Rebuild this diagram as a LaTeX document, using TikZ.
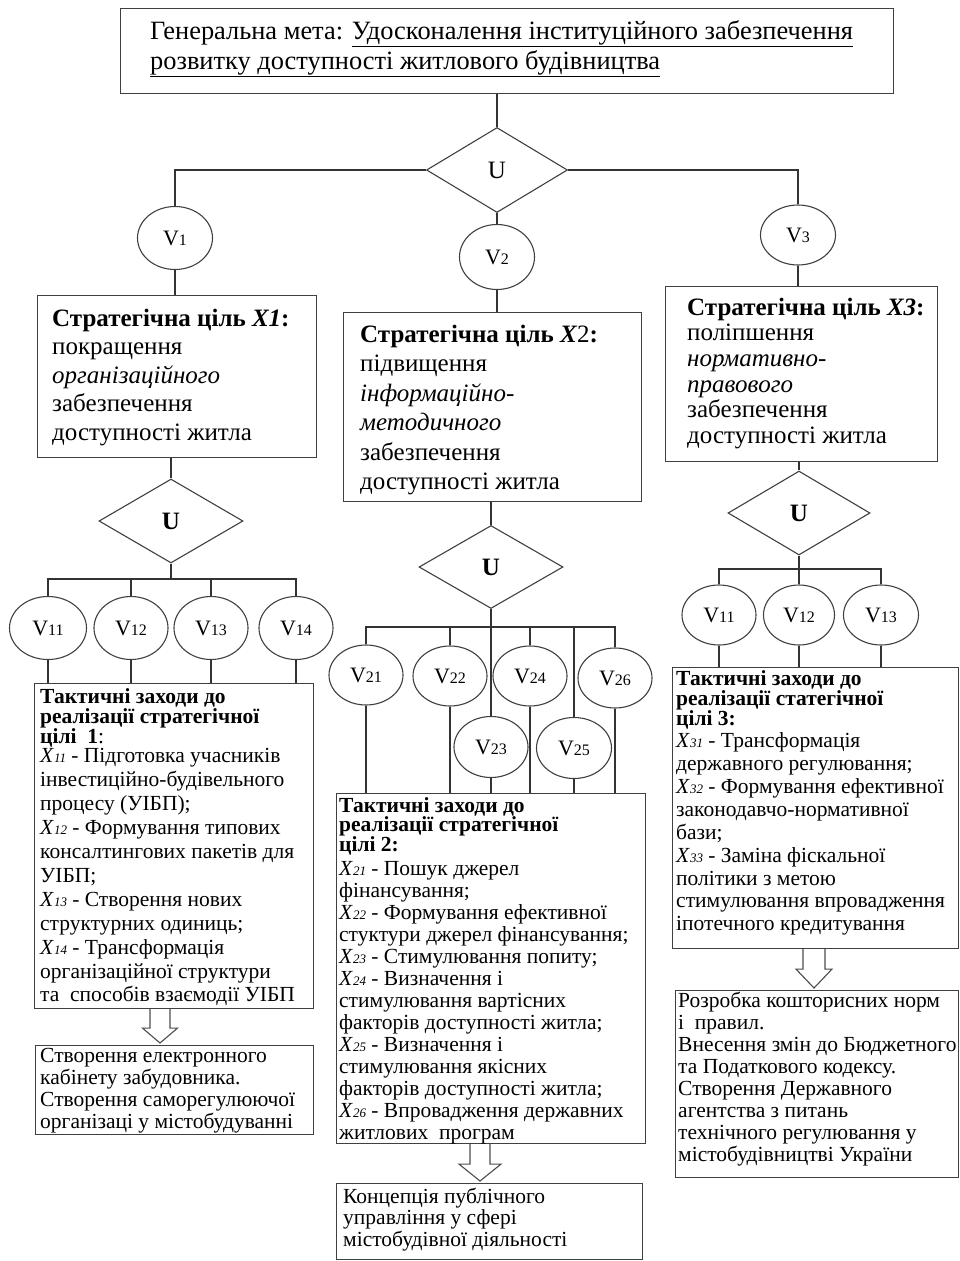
\documentclass[tikz,border=0pt]{standalone}
\usepackage{fontspec}
\setmainfont{Liberation Serif}
\usetikzlibrary{shapes.geometric,calc}
\newcommand\Xsub[1]{\textit{X}{\fontsize{13}{13}\selectfont\textit{#1}}}
\newcommand\Vlab[1]{{\fontsize{22}{22}\selectfont V}{\fontsize{16}{16}\selectfont #1}}
\newcommand\fs[2]{\fontsize{#1}{#2}\selectfont\lineskiplimit=-100pt\lineskip=0pt}
\newcommand\blockarrow[6]{%
  \coordinate (ac) at (#3,0);
  \draw[hollow] ($(ac|-#1.south)+(-#4,0)$) -- ++(0,#6) -- ++(-#5+#4,0) -- ($(ac|-#2.north)+(0,-2)$)
     -- ($(ac|-#1.south)+(#5,#6)$) -- ++(-#5+#4,0) -- ++(0,-#6);}
\begin{document}
\begin{tikzpicture}[x=1pt,y=-1pt,
  line/.style={draw=black!80, line width=1.1pt},
  box/.style={draw=black!75, line width=1.1pt, rectangle, anchor=north west, inner sep=0pt},
  txt/.style={anchor=north west, inner sep=0pt, align=left},
  oval/.style={ellipse, draw=black!75, line width=1.1pt, inner sep=0pt, minimum width=75pt, minimum height=62pt},
  rhomb/.style={diamond, draw=black!75, line width=1.1pt, inner sep=0pt, minimum width=142pt, minimum height=84pt},
  hollow/.style={draw=black!70, line width=1.1pt, fill=white}
]
\useasboundingbox[fill=white] (0,0) rectangle (959,1261);

% ---------- top ----------
\node[box, minimum width=773, minimum height=85] (goal) at (120,8) {};
\node[txt, font=\fs{26.4}{30}] (goalt) at (150,14) {\rule{0pt}{25pt}Генеральна мета: \underline{Удосконалення інституційного забезпечення}\\
\underline{розвитку доступності житлового будівництва}};
\node[rhomb, minimum width=141, minimum height=85] (D0) at (497,170) {\fontsize{25}{25}\selectfont U};
\node[oval, minimum height=63] (V1) at (175,238) {\Vlab{1}};
\node[oval, minimum height=65] (V2) at (497,257) {\Vlab{2}};
\node[oval, minimum height=60] (V3) at (798,235) {\Vlab{3}};
\draw[line] (D0.north|-goal.south) -- (D0.north);
\draw[line] (D0.west) -| (V1.north);
\draw[line] (D0.south) -- (V2.north);
\draw[line] (D0.east) -| (V3.north);

% ---------- column 1 ----------
\node[box, minimum width=279, minimum height=162] (X1) at (37,295) {};
\node[txt, font=\fs{25}{28.5}] (X1t) at (52,302) {\rule{0pt}{24pt}\textbf{Стратегічна ціль \textit{X1}:}\\
покращення\\ \textit{організаційного}\\ забезпечення\\ доступності житла};
\draw[line] (V1.south) -- (V1.south|-X1.north);
\node[rhomb, minimum width=144, minimum height=84] (D1) at (171,521) {\fontsize{25}{25}\selectfont\bfseries U};
\draw[line] (D1.north|-X1.south) -- (D1.north);
\coordinate (bus1) at (171,579);
\node[oval, minimum width=77, minimum height=63] (V11) at (48,628) {\Vlab{11}};
\node[oval, minimum width=74, minimum height=63] (V12) at (131,628) {\Vlab{12}};
\node[oval, minimum width=74, minimum height=63] (V13) at (211,628) {\Vlab{13}};
\node[oval, minimum width=74, minimum height=63] (V14) at (296,628) {\Vlab{14}};
\draw[line] (D1.south) -- (bus1);
\draw[line] (V11.north) |- (bus1) -| (V14.north);
\draw[line] (V12.north) -- (V12.north|-bus1);
\draw[line] (V13.north) -- (V13.north|-bus1);
\node[box, minimum width=279, minimum height=325] (T1) at (34,683) {};
\foreach \v in {V11,V12,V13,V14} \draw[line] (\v.south) -- (\v.south|-T1.north);
\node[txt, font=\fs{21.5}{23.9}] (T1t) at (40,682.5) {\rule{0pt}{20.5pt}\textbf{Тактичні заходи до}\\[-4pt]
\textbf{реалізації стратегічної}\\[-4pt]
\textbf{цілі\ \ 1}:\\[-4pt]
\Xsub{11} - Підготовка учасників\\
інвестиційно-будівельного\\
процесу (УІБП);\\
\Xsub{12} - Формування типових\\
консалтингових пакетів для\\
УІБП;\\
\Xsub{13} - Створення нових\\
структурних одиниць;\\
\Xsub{14} - Трансформація\\
організаційної структури\\
та\ \ способів взаємодії УІБП};
\node[box, minimum width=278, minimum height=89] (R1) at (35,1045) {};
\node[txt, font=\fs{21.5}{22}] (R1t) at (40,1041.5) {\rule{0pt}{20.5pt}Створення електронного\\
кабінету забудовника.\\
Створення саморегулюючої\\
організаці у містобудуванні};
\blockarrow{T1}{R1}{160}{10}{17.5}{19}

% ---------- column 2 ----------
\node[box, minimum width=298, minimum height=189] (X2) at (343,312) {};
\node[txt, font=\fs{25}{29.5}] (X2t) at (360,318) {\rule{0pt}{24pt}\textbf{Стратегічна ціль \textit{X}}2\textbf{:}\\
підвищення\\ \textit{інформаційно-}\\ \textit{методичного}\\ забезпечення\\ доступності житла};
\draw[line] (V2.south) -- (V2.south|-X2.north);
\node[rhomb, minimum width=144, minimum height=83] (D2) at (491,567) {\fontsize{25}{25}\selectfont\bfseries U};
\draw[line] (D2.north|-X2.south) -- (D2.north);
\coordinate (bus2) at (491,627);
\node[oval, minimum width=74, minimum height=60] (V21) at (366,675) {\Vlab{21}};
\node[oval, minimum width=74, minimum height=60] (V22) at (450,676) {\Vlab{22}};
\node[oval, minimum width=74, minimum height=60] (V24) at (530,676) {\Vlab{24}};
\node[oval, minimum width=74, minimum height=60] (V26) at (615,678) {\Vlab{26}};
\node[oval, minimum width=74, minimum height=61] (V23) at (491,747) {\Vlab{23}};
\node[oval, minimum width=75, minimum height=61] (V25) at (574,748) {\Vlab{25}};
\draw[line] (D2.south) -- (V23.north);
\draw[line] (V21.north) |- (bus2) -| (V26.north);
\draw[line] (V22.north) -- (V22.north|-bus2);
\draw[line] (V24.north) -- (V24.north|-bus2);
\draw[line] (V25.north) -- (V25.north|-bus2);
\node[box, minimum width=309, minimum height=350] (T2) at (336,793) {};
\foreach \v in {V21,V22,V23,V24,V25,V26} \draw[line] (\v.south) -- (\v.south|-T2.north);
\node[txt, font=\fs{21.5}{22}] (T2t) at (339,791.5) {\rule{0pt}{20.5pt}\textbf{Тактичні заходи до}\\[-2.5pt]
\textbf{реалізації стратегічної}\\[-2.5pt]
\textbf{цілі 2:}\\[2pt]
\Xsub{21} - Пошук джерел\\
фінансування;\\
\Xsub{22} - Формування ефективної\\
стуктури джерел фінансування;\\
\Xsub{23} - Стимулювання попиту;\\
\Xsub{24} - Визначення і\\
стимулювання вартісних\\
факторів доступності житла;\\
\Xsub{25} - Визначення і\\
стимулювання якісних\\
факторів доступності житла;\\
\Xsub{26} - Впровадження державних\\
житлових\ \ програм};
\node[box, minimum width=306, minimum height=76] (R2) at (336,1183) {};
\node[txt, font=\fs{21.5}{21.5}] (R2t) at (343,1182.5) {\rule{0pt}{20.5pt}Концепція публічного\\
управління у сфері\\
містобудівної діяльності};
\blockarrow{T2}{R2}{480}{10}{21}{20}

% ---------- column 3 ----------
\node[box, minimum width=272, minimum height=175] (X3) at (665,286) {};
\node[txt, font=\fs{25}{25.6}] (X3t) at (687,291) {\rule{0pt}{24pt}\textbf{Стратегічна ціль \textit{X3}:}\\
поліпшення\\ \textit{нормативно-}\\ \textit{правового}\\ забезпечення\\ доступності житла};
\draw[line] (V3.south) -- (V3.south|-X3.north);
\node[rhomb, minimum width=142, minimum height=84] (D3) at (799,513) {\fontsize{25}{25}\selectfont\bfseries U};
\draw[line] (D3.north|-X3.south) -- (D3.north);
\coordinate (bus3) at (799,569);
\node[oval, minimum width=74, minimum height=60] (V31) at (719,615) {\Vlab{11}};
\node[oval, minimum width=71, minimum height=60] (V32) at (799,615) {\Vlab{12}};
\node[oval, minimum width=75, minimum height=60] (V33) at (881,615) {\Vlab{13}};
\draw[line] (D3.south) -- (V32.north);
\draw[line] (V31.north) |- (bus3) -| (V33.north);
\node[box, minimum width=286, minimum height=281] (T3) at (672,667) {};
\foreach \v in {V31,V32,V33} \draw[line] (\v.south) -- (\v.south|-T3.north);
\node[txt, font=\fs{21.5}{22.9}] (T3t) at (676,665) {\rule{0pt}{20.5pt}\textbf{Тактичні заходи до}\\[-2.9pt]
\textbf{реалізації статегічної}\\[-2.9pt]
\textbf{цілі 3:}\\[-1pt]
\Xsub{31} - Трансформація\\
державного регулювання;\\
\Xsub{32} - Формування ефективної\\
законодавчо-нормативної\\
бази;\\
\Xsub{33} - Заміна фіскальної\\
політики з метою\\
стимулювання впровадження\\
іпотечного кредитування};
\node[box, minimum width=283, minimum height=187] (R3) at (675,990) {};
\node[txt, font=\fs{21.5}{22.1}] (R3t) at (678,986.5) {\rule{0pt}{20.5pt}Розробка кошторисних норм\\
і\ \ правил.\\
Внесення змін до Бюджетного\\
та Податкового кодексу.\\
Створення Державного\\
агентства з питань\\
технічного регулювання у\\
містобудівництві України};
\blockarrow{T3}{R3}{814}{11}{18}{20}
\end{tikzpicture}
\end{document}
